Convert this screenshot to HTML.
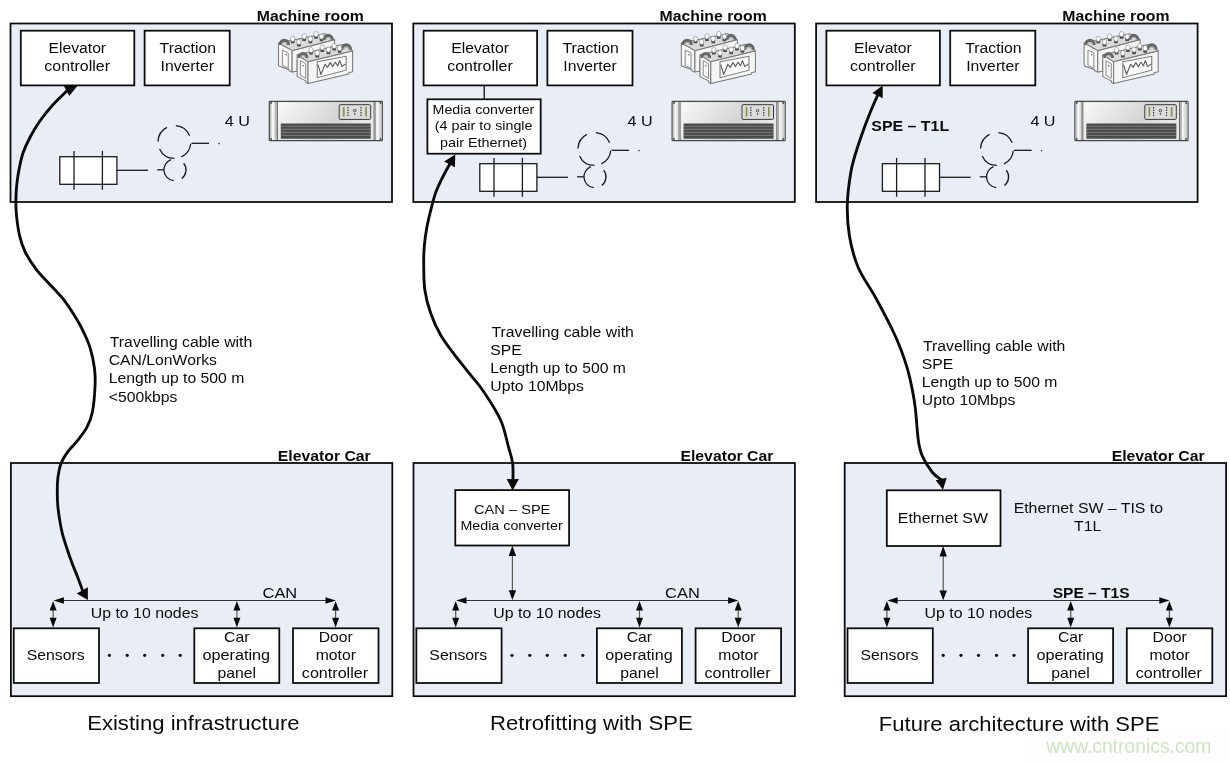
<!DOCTYPE html><html><head><meta charset="utf-8"><style>html,body{margin:0;padding:0;background:#fff;overflow:hidden;}svg{display:block;font-family:"Liberation Sans",sans-serif;will-change:transform;}</style></head><body><svg width="1230" height="762" viewBox="0 0 1230 762"><defs><linearGradient id="ear" x1="0" x2="1" y1="0" y2="0"><stop offset="0" stop-color="#b0b0b0"/><stop offset="0.35" stop-color="#fafafa"/><stop offset="1" stop-color="#c0c0c0"/></linearGradient><linearGradient id="face" x1="0" x2="1" y1="0" y2="0.3"><stop offset="0" stop-color="#f8f8f8"/><stop offset="0.7" stop-color="#d4d4d4"/><stop offset="1" stop-color="#e8e8e8"/></linearGradient></defs>
<rect x="0" y="0" width="1230" height="762" fill="#fff"/>
<rect x="1030" y="734" width="200" height="28" fill="#fdfdfd"/>
<g transform="translate(0.00,0)">
<rect x="10.50" y="23.50" width="381.50" height="178.50" fill="#e9eef6" stroke="#0a0a0a" stroke-width="1.7600000000000002"/>
<text x="256.77" y="20.60" font-size="14" font-weight="bold" textLength="107.15" lengthAdjust="spacingAndGlyphs" fill="#0a0a0a">Machine room</text>
<rect x="20.80" y="30.70" width="113.50" height="54.70" fill="#fff" stroke="#0a0a0a" stroke-width="1.7600000000000002"/>
<text x="48.48" y="52.90" font-size="14" textLength="57.63" lengthAdjust="spacingAndGlyphs" fill="#0a0a0a">Elevator</text>
<text x="44.36" y="71.20" font-size="14" textLength="65.62" lengthAdjust="spacingAndGlyphs" fill="#0a0a0a">controller</text>
<rect x="144.60" y="30.70" width="85.10" height="54.70" fill="#fff" stroke="#0a0a0a" stroke-width="1.7600000000000002"/>
<text x="159.60" y="53.00" font-size="14" textLength="56.40" lengthAdjust="spacingAndGlyphs" fill="#0a0a0a">Traction</text>
<text transform="translate(187.20,71.20) scale(1.125,1)" x="0" y="0" font-size="14" text-anchor="middle" fill="#0a0a0a">Inverter</text>
<text x="224.80" y="126.20" font-size="14" textLength="25.12" lengthAdjust="spacingAndGlyphs" fill="#0a0a0a">4 U</text>
</g>
<g transform="translate(270.00,28) scale(0.07874)">
<polygon points="108,190 281,288 820,150 690,72" fill="#dadada" stroke="#777" stroke-width="13" stroke-linejoin="round"/>
<polygon points="108,192 281,288 281,560 243,543 243,530 116,483 108,470" fill="#f8f8f8" stroke="#777" stroke-width="13" stroke-linejoin="round"/>
<polygon points="281,288 820,150 820,300 345,410 345,548 281,560" fill="#f4f4f4" stroke="#777" stroke-width="13" stroke-linejoin="round"/>
<polygon points="157,280 232,318 232,513 157,475" fill="#f8f8f8" stroke="#777" stroke-width="11"/>
<rect x="198" y="332" width="16" height="16" fill="#555"/>
<path d="M130,215 C130,136.25 235,136.25 235,215" fill="none" stroke="#666" stroke-width="40"/>
<path d="M152,219 C152,171.6875 213,171.6875 213,219" fill="none" stroke="#b4b4b4" stroke-width="14"/>
<path d="M690,150 C690,75.0 790,75.0 790,150" fill="none" stroke="#666" stroke-width="40"/>
<path d="M712,154 C712,108.75 768,108.75 768,154" fill="none" stroke="#b4b4b4" stroke-width="14"/>
<path d="M262,150 L266,195 L310,195 L314,150 Z" fill="#4a4a4a"/>
<ellipse cx="288" cy="137" rx="28" ry="33" fill="#fefefe" stroke="#8a8a8a" stroke-width="8"/>
<path d="M341,191 L345,236 L389,236 L393,191 Z" fill="#4a4a4a"/>
<ellipse cx="367" cy="178" rx="28" ry="33" fill="#fefefe" stroke="#8a8a8a" stroke-width="8"/>
<path d="M408,120 L412,165 L456,165 L460,120 Z" fill="#4a4a4a"/>
<ellipse cx="434" cy="107" rx="28" ry="33" fill="#fefefe" stroke="#8a8a8a" stroke-width="8"/>
<path d="M487,150 L491,195 L535,195 L539,150 Z" fill="#4a4a4a"/>
<ellipse cx="513" cy="137" rx="28" ry="33" fill="#fefefe" stroke="#8a8a8a" stroke-width="8"/>
<path d="M558,90 L562,135 L606,135 L610,90 Z" fill="#4a4a4a"/>
<ellipse cx="584" cy="77" rx="28" ry="33" fill="#fefefe" stroke="#8a8a8a" stroke-width="8"/>
<path d="M629,122 L633,167 L677,167 L681,122 Z" fill="#4a4a4a"/>
<ellipse cx="655" cy="109" rx="28" ry="33" fill="#fefefe" stroke="#8a8a8a" stroke-width="8"/>
<polygon points="345,340 483,430 1049,291 920,210" fill="#dadada" stroke="#777" stroke-width="13" stroke-linejoin="round"/>
<polygon points="345,345 483,430 483,705 455,690 455,672 345,618" fill="#f8f8f8" stroke="#777" stroke-width="13" stroke-linejoin="round"/>
<polygon points="483,430 1049,291 1049,557 1000,568 1000,585 563,686 483,705" fill="#f5f5f5" stroke="#777" stroke-width="13" stroke-linejoin="round"/>
<polygon points="386,415 453,453 453,640 386,600" fill="#f8f8f8" stroke="#777" stroke-width="11"/>
<rect x="412" y="470" width="16" height="16" fill="#555"/>
<polygon points="600,429 967,360 967,535 600,631" fill="#fafafa" stroke="#777" stroke-width="13"/>
<polyline points="609,466 646,590 700,460 730,500 765,440 795,490 830,435 860,480 885,415 915,490 960,455" fill="none" stroke="#5a5a5a" stroke-width="14" stroke-linejoin="round"/>
<path d="M370,380 C370,306.5 468,306.5 468,380" fill="none" stroke="#666" stroke-width="40"/>
<path d="M392,384 C392,339.575 446,339.575 446,384" fill="none" stroke="#b4b4b4" stroke-width="14"/>
<path d="M915,275 C915,194.75 1022,194.75 1022,275" fill="none" stroke="#666" stroke-width="40"/>
<path d="M937,279 C937,230.8625 1000,230.8625 1000,279" fill="none" stroke="#b4b4b4" stroke-width="14"/>
<path d="M495,293 L499,338 L543,338 L547,293 Z" fill="#4a4a4a"/>
<ellipse cx="521" cy="280" rx="28" ry="33" fill="#fefefe" stroke="#8a8a8a" stroke-width="8"/>
<path d="M574,330 L578,375 L622,375 L626,330 Z" fill="#4a4a4a"/>
<ellipse cx="600" cy="317" rx="28" ry="33" fill="#fefefe" stroke="#8a8a8a" stroke-width="8"/>
<path d="M638,260 L642,305 L686,305 L690,260 Z" fill="#4a4a4a"/>
<ellipse cx="664" cy="247" rx="28" ry="33" fill="#fefefe" stroke="#8a8a8a" stroke-width="8"/>
<path d="M716,287 L720,332 L764,332 L768,287 Z" fill="#4a4a4a"/>
<ellipse cx="742" cy="274" rx="28" ry="33" fill="#fefefe" stroke="#8a8a8a" stroke-width="8"/>
<path d="M789,241 L793,286 L837,286 L841,241 Z" fill="#4a4a4a"/>
<ellipse cx="815" cy="228" rx="28" ry="33" fill="#fefefe" stroke="#8a8a8a" stroke-width="8"/>
<path d="M858,269 L862,314 L906,314 L910,269 Z" fill="#4a4a4a"/>
<ellipse cx="884" cy="256" rx="28" ry="33" fill="#fefefe" stroke="#8a8a8a" stroke-width="8"/>
</g>
<g transform="translate(0.00,0)">
<rect x="269.3" y="101.3" width="113.1" height="39.4" rx="0.8" fill="#cfcfcf" stroke="#4a4a4a" stroke-width="1.2"/>
<rect x="270" y="102" width="7.2" height="38" fill="url(#ear)"/>
<rect x="374.6" y="102" width="7.2" height="38" fill="url(#ear)"/>
<line x1="277.4" y1="101.5" x2="277.4" y2="140.5" stroke="#555" stroke-width="1"/>
<line x1="373.9" y1="101.5" x2="373.9" y2="140.5" stroke="#555" stroke-width="1"/>
<line x1="276" y1="102" x2="276" y2="140" stroke="#9a9a9a" stroke-width="0.8"/>
<line x1="375.5" y1="102" x2="375.5" y2="140" stroke="#9a9a9a" stroke-width="0.8"/>
<circle cx="271.2" cy="103" r="0.9" fill="#444"/>
<circle cx="271.2" cy="139" r="0.9" fill="#444"/>
<circle cx="380.5" cy="103" r="0.9" fill="#444"/>
<circle cx="380.5" cy="139" r="0.9" fill="#444"/>
<rect x="277.9" y="102.2" width="95.6" height="37.4" fill="url(#face)"/>
<rect x="280.8" y="123.5" width="89.9" height="15.2" fill="#4a4a4a"/>
<line x1="280.8" y1="126.3" x2="370.7" y2="126.3" stroke="#8c8c8c" stroke-width="0.8"/>
<line x1="280.8" y1="129.3" x2="370.7" y2="129.3" stroke="#8c8c8c" stroke-width="0.8"/>
<line x1="280.8" y1="132.3" x2="370.7" y2="132.3" stroke="#8c8c8c" stroke-width="0.8"/>
<line x1="280.8" y1="135.3" x2="370.7" y2="135.3" stroke="#8c8c8c" stroke-width="0.8"/>
<rect x="339.2" y="104.7" width="31.5" height="14.7" rx="1" fill="#dcdcdc" stroke="#3a3a3a" stroke-width="1"/>
<rect x="342.9" y="107" width="1.7" height="9.5" fill="#8f8f4a"/>
<rect x="365.2" y="107" width="1.7" height="9.5" fill="#8f8f4a"/>
<circle cx="348.0" cy="107.8" r="0.7" fill="#222"/>
<circle cx="348.0" cy="110.3" r="0.7" fill="#222"/>
<circle cx="348.0" cy="112.8" r="0.7" fill="#222"/>
<circle cx="348.0" cy="115.3" r="0.7" fill="#222"/>
<circle cx="361.0" cy="107.8" r="0.7" fill="#222"/>
<circle cx="361.0" cy="110.3" r="0.7" fill="#222"/>
<circle cx="361.0" cy="112.8" r="0.7" fill="#222"/>
<circle cx="361.0" cy="115.3" r="0.7" fill="#222"/>
<circle cx="354.8" cy="110.6" r="1.3" fill="none" stroke="#222" stroke-width="0.7"/><circle cx="354.8" cy="114" r="0.7" fill="#222"/>
</g>
<g transform="translate(0.00,0.00)">
<rect x="59.80" y="156.70" width="57.10" height="27.60" fill="#fff" stroke="#1a1a1a" stroke-width="1.3"/>
<line x1="74.00" y1="150.90" x2="74.00" y2="189.80" stroke="#1a1a1a" stroke-width="1.3"/>
<line x1="102.40" y1="150.90" x2="102.40" y2="189.80" stroke="#1a1a1a" stroke-width="1.3"/>
<line x1="116.90" y1="170.30" x2="148.00" y2="170.30" stroke="#1a1a1a" stroke-width="1.3"/>
<line x1="157.20" y1="169.80" x2="163.80" y2="169.80" stroke="#1a1a1a" stroke-width="1.3"/>
<path d="M175.83,125.66 A16.4,16.4 0 0 1 189.61,135.86 M190.71,143.71 A16.4,16.4 0 0 1 181.33,156.86 M174.40,158.40 A16.4,16.4 0 0 1 159.54,148.93 M158.01,141.43 A16.4,16.4 0 0 1 166.95,127.39 M170.88,159.60 A11.0,11.0 0 0 0 173.66,180.72 M183.67,163.03 A11.0,11.0 0 0 1 181.77,178.47" fill="none" stroke="#1a1a1a" stroke-width="1.3"/>
<line x1="191.50" y1="143.30" x2="209.00" y2="143.30" stroke="#1a1a1a" stroke-width="1.3"/>
<circle cx="219" cy="143.6" r="0.8" fill="#333"/>
</g>
<g transform="translate(402.80,0)">
<rect x="10.50" y="23.50" width="381.50" height="178.50" fill="#e9eef6" stroke="#0a0a0a" stroke-width="1.7600000000000002"/>
<text x="256.77" y="20.60" font-size="14" font-weight="bold" textLength="107.15" lengthAdjust="spacingAndGlyphs" fill="#0a0a0a">Machine room</text>
<rect x="20.80" y="30.70" width="113.50" height="54.70" fill="#fff" stroke="#0a0a0a" stroke-width="1.7600000000000002"/>
<text x="48.48" y="52.90" font-size="14" textLength="57.63" lengthAdjust="spacingAndGlyphs" fill="#0a0a0a">Elevator</text>
<text x="44.36" y="71.20" font-size="14" textLength="65.62" lengthAdjust="spacingAndGlyphs" fill="#0a0a0a">controller</text>
<rect x="144.60" y="30.70" width="85.10" height="54.70" fill="#fff" stroke="#0a0a0a" stroke-width="1.7600000000000002"/>
<text x="159.60" y="53.00" font-size="14" textLength="56.40" lengthAdjust="spacingAndGlyphs" fill="#0a0a0a">Traction</text>
<text transform="translate(187.20,71.20) scale(1.125,1)" x="0" y="0" font-size="14" text-anchor="middle" fill="#0a0a0a">Inverter</text>
<text x="224.80" y="126.20" font-size="14" textLength="25.12" lengthAdjust="spacingAndGlyphs" fill="#0a0a0a">4 U</text>
</g>
<g transform="translate(672.80,28) scale(0.07874)">
<polygon points="108,190 281,288 820,150 690,72" fill="#dadada" stroke="#777" stroke-width="13" stroke-linejoin="round"/>
<polygon points="108,192 281,288 281,560 243,543 243,530 116,483 108,470" fill="#f8f8f8" stroke="#777" stroke-width="13" stroke-linejoin="round"/>
<polygon points="281,288 820,150 820,300 345,410 345,548 281,560" fill="#f4f4f4" stroke="#777" stroke-width="13" stroke-linejoin="round"/>
<polygon points="157,280 232,318 232,513 157,475" fill="#f8f8f8" stroke="#777" stroke-width="11"/>
<rect x="198" y="332" width="16" height="16" fill="#555"/>
<path d="M130,215 C130,136.25 235,136.25 235,215" fill="none" stroke="#666" stroke-width="40"/>
<path d="M152,219 C152,171.6875 213,171.6875 213,219" fill="none" stroke="#b4b4b4" stroke-width="14"/>
<path d="M690,150 C690,75.0 790,75.0 790,150" fill="none" stroke="#666" stroke-width="40"/>
<path d="M712,154 C712,108.75 768,108.75 768,154" fill="none" stroke="#b4b4b4" stroke-width="14"/>
<path d="M262,150 L266,195 L310,195 L314,150 Z" fill="#4a4a4a"/>
<ellipse cx="288" cy="137" rx="28" ry="33" fill="#fefefe" stroke="#8a8a8a" stroke-width="8"/>
<path d="M341,191 L345,236 L389,236 L393,191 Z" fill="#4a4a4a"/>
<ellipse cx="367" cy="178" rx="28" ry="33" fill="#fefefe" stroke="#8a8a8a" stroke-width="8"/>
<path d="M408,120 L412,165 L456,165 L460,120 Z" fill="#4a4a4a"/>
<ellipse cx="434" cy="107" rx="28" ry="33" fill="#fefefe" stroke="#8a8a8a" stroke-width="8"/>
<path d="M487,150 L491,195 L535,195 L539,150 Z" fill="#4a4a4a"/>
<ellipse cx="513" cy="137" rx="28" ry="33" fill="#fefefe" stroke="#8a8a8a" stroke-width="8"/>
<path d="M558,90 L562,135 L606,135 L610,90 Z" fill="#4a4a4a"/>
<ellipse cx="584" cy="77" rx="28" ry="33" fill="#fefefe" stroke="#8a8a8a" stroke-width="8"/>
<path d="M629,122 L633,167 L677,167 L681,122 Z" fill="#4a4a4a"/>
<ellipse cx="655" cy="109" rx="28" ry="33" fill="#fefefe" stroke="#8a8a8a" stroke-width="8"/>
<polygon points="345,340 483,430 1049,291 920,210" fill="#dadada" stroke="#777" stroke-width="13" stroke-linejoin="round"/>
<polygon points="345,345 483,430 483,705 455,690 455,672 345,618" fill="#f8f8f8" stroke="#777" stroke-width="13" stroke-linejoin="round"/>
<polygon points="483,430 1049,291 1049,557 1000,568 1000,585 563,686 483,705" fill="#f5f5f5" stroke="#777" stroke-width="13" stroke-linejoin="round"/>
<polygon points="386,415 453,453 453,640 386,600" fill="#f8f8f8" stroke="#777" stroke-width="11"/>
<rect x="412" y="470" width="16" height="16" fill="#555"/>
<polygon points="600,429 967,360 967,535 600,631" fill="#fafafa" stroke="#777" stroke-width="13"/>
<polyline points="609,466 646,590 700,460 730,500 765,440 795,490 830,435 860,480 885,415 915,490 960,455" fill="none" stroke="#5a5a5a" stroke-width="14" stroke-linejoin="round"/>
<path d="M370,380 C370,306.5 468,306.5 468,380" fill="none" stroke="#666" stroke-width="40"/>
<path d="M392,384 C392,339.575 446,339.575 446,384" fill="none" stroke="#b4b4b4" stroke-width="14"/>
<path d="M915,275 C915,194.75 1022,194.75 1022,275" fill="none" stroke="#666" stroke-width="40"/>
<path d="M937,279 C937,230.8625 1000,230.8625 1000,279" fill="none" stroke="#b4b4b4" stroke-width="14"/>
<path d="M495,293 L499,338 L543,338 L547,293 Z" fill="#4a4a4a"/>
<ellipse cx="521" cy="280" rx="28" ry="33" fill="#fefefe" stroke="#8a8a8a" stroke-width="8"/>
<path d="M574,330 L578,375 L622,375 L626,330 Z" fill="#4a4a4a"/>
<ellipse cx="600" cy="317" rx="28" ry="33" fill="#fefefe" stroke="#8a8a8a" stroke-width="8"/>
<path d="M638,260 L642,305 L686,305 L690,260 Z" fill="#4a4a4a"/>
<ellipse cx="664" cy="247" rx="28" ry="33" fill="#fefefe" stroke="#8a8a8a" stroke-width="8"/>
<path d="M716,287 L720,332 L764,332 L768,287 Z" fill="#4a4a4a"/>
<ellipse cx="742" cy="274" rx="28" ry="33" fill="#fefefe" stroke="#8a8a8a" stroke-width="8"/>
<path d="M789,241 L793,286 L837,286 L841,241 Z" fill="#4a4a4a"/>
<ellipse cx="815" cy="228" rx="28" ry="33" fill="#fefefe" stroke="#8a8a8a" stroke-width="8"/>
<path d="M858,269 L862,314 L906,314 L910,269 Z" fill="#4a4a4a"/>
<ellipse cx="884" cy="256" rx="28" ry="33" fill="#fefefe" stroke="#8a8a8a" stroke-width="8"/>
</g>
<g transform="translate(402.80,0)">
<rect x="269.3" y="101.3" width="113.1" height="39.4" rx="0.8" fill="#cfcfcf" stroke="#4a4a4a" stroke-width="1.2"/>
<rect x="270" y="102" width="7.2" height="38" fill="url(#ear)"/>
<rect x="374.6" y="102" width="7.2" height="38" fill="url(#ear)"/>
<line x1="277.4" y1="101.5" x2="277.4" y2="140.5" stroke="#555" stroke-width="1"/>
<line x1="373.9" y1="101.5" x2="373.9" y2="140.5" stroke="#555" stroke-width="1"/>
<line x1="276" y1="102" x2="276" y2="140" stroke="#9a9a9a" stroke-width="0.8"/>
<line x1="375.5" y1="102" x2="375.5" y2="140" stroke="#9a9a9a" stroke-width="0.8"/>
<circle cx="271.2" cy="103" r="0.9" fill="#444"/>
<circle cx="271.2" cy="139" r="0.9" fill="#444"/>
<circle cx="380.5" cy="103" r="0.9" fill="#444"/>
<circle cx="380.5" cy="139" r="0.9" fill="#444"/>
<rect x="277.9" y="102.2" width="95.6" height="37.4" fill="url(#face)"/>
<rect x="280.8" y="123.5" width="89.9" height="15.2" fill="#4a4a4a"/>
<line x1="280.8" y1="126.3" x2="370.7" y2="126.3" stroke="#8c8c8c" stroke-width="0.8"/>
<line x1="280.8" y1="129.3" x2="370.7" y2="129.3" stroke="#8c8c8c" stroke-width="0.8"/>
<line x1="280.8" y1="132.3" x2="370.7" y2="132.3" stroke="#8c8c8c" stroke-width="0.8"/>
<line x1="280.8" y1="135.3" x2="370.7" y2="135.3" stroke="#8c8c8c" stroke-width="0.8"/>
<rect x="339.2" y="104.7" width="31.5" height="14.7" rx="1" fill="#dcdcdc" stroke="#3a3a3a" stroke-width="1"/>
<rect x="342.9" y="107" width="1.7" height="9.5" fill="#8f8f4a"/>
<rect x="365.2" y="107" width="1.7" height="9.5" fill="#8f8f4a"/>
<circle cx="348.0" cy="107.8" r="0.7" fill="#222"/>
<circle cx="348.0" cy="110.3" r="0.7" fill="#222"/>
<circle cx="348.0" cy="112.8" r="0.7" fill="#222"/>
<circle cx="348.0" cy="115.3" r="0.7" fill="#222"/>
<circle cx="361.0" cy="107.8" r="0.7" fill="#222"/>
<circle cx="361.0" cy="110.3" r="0.7" fill="#222"/>
<circle cx="361.0" cy="112.8" r="0.7" fill="#222"/>
<circle cx="361.0" cy="115.3" r="0.7" fill="#222"/>
<circle cx="354.8" cy="110.6" r="1.3" fill="none" stroke="#222" stroke-width="0.7"/><circle cx="354.8" cy="114" r="0.7" fill="#222"/>
</g>
<rect x="427.40" y="99.30" width="113.30" height="54.40" fill="#fff" stroke="#0a0a0a" stroke-width="1.7600000000000002"/>
<line x1="484.20" y1="85.30" x2="484.20" y2="99.30" stroke="#0a0a0a" stroke-width="1.3"/>
<text x="432.61" y="114.00" font-size="13" textLength="101.63" lengthAdjust="spacingAndGlyphs" fill="#0a0a0a">Media converter</text>
<text x="434.80" y="130.00" font-size="13" textLength="97.68" lengthAdjust="spacingAndGlyphs" fill="#0a0a0a">(4 pair to single</text>
<text x="439.99" y="146.60" font-size="13" textLength="87.05" lengthAdjust="spacingAndGlyphs" fill="#0a0a0a">pair Ethernet)</text>
<g transform="translate(420.00,7.00)">
<rect x="59.80" y="156.70" width="57.10" height="27.60" fill="#fff" stroke="#1a1a1a" stroke-width="1.3"/>
<line x1="74.00" y1="150.90" x2="74.00" y2="189.80" stroke="#1a1a1a" stroke-width="1.3"/>
<line x1="102.40" y1="150.90" x2="102.40" y2="189.80" stroke="#1a1a1a" stroke-width="1.3"/>
<line x1="116.90" y1="170.30" x2="148.00" y2="170.30" stroke="#1a1a1a" stroke-width="1.3"/>
<line x1="157.20" y1="169.80" x2="163.80" y2="169.80" stroke="#1a1a1a" stroke-width="1.3"/>
<path d="M175.83,125.66 A16.4,16.4 0 0 1 189.61,135.86 M190.71,143.71 A16.4,16.4 0 0 1 181.33,156.86 M174.40,158.40 A16.4,16.4 0 0 1 159.54,148.93 M158.01,141.43 A16.4,16.4 0 0 1 166.95,127.39 M170.88,159.60 A11.0,11.0 0 0 0 173.66,180.72 M183.67,163.03 A11.0,11.0 0 0 1 181.77,178.47" fill="none" stroke="#1a1a1a" stroke-width="1.3"/>
<line x1="191.50" y1="143.30" x2="209.00" y2="143.30" stroke="#1a1a1a" stroke-width="1.3"/>
<circle cx="219" cy="143.6" r="0.8" fill="#333"/>
</g>
<g transform="translate(805.60,0)">
<rect x="10.50" y="23.50" width="381.50" height="178.50" fill="#e9eef6" stroke="#0a0a0a" stroke-width="1.7600000000000002"/>
<text x="256.77" y="20.60" font-size="14" font-weight="bold" textLength="107.15" lengthAdjust="spacingAndGlyphs" fill="#0a0a0a">Machine room</text>
<rect x="20.80" y="30.70" width="113.50" height="54.70" fill="#fff" stroke="#0a0a0a" stroke-width="1.7600000000000002"/>
<text x="48.48" y="52.90" font-size="14" textLength="57.63" lengthAdjust="spacingAndGlyphs" fill="#0a0a0a">Elevator</text>
<text x="44.36" y="71.20" font-size="14" textLength="65.62" lengthAdjust="spacingAndGlyphs" fill="#0a0a0a">controller</text>
<rect x="144.60" y="30.70" width="85.10" height="54.70" fill="#fff" stroke="#0a0a0a" stroke-width="1.7600000000000002"/>
<text x="159.60" y="53.00" font-size="14" textLength="56.40" lengthAdjust="spacingAndGlyphs" fill="#0a0a0a">Traction</text>
<text transform="translate(187.20,71.20) scale(1.125,1)" x="0" y="0" font-size="14" text-anchor="middle" fill="#0a0a0a">Inverter</text>
<text x="224.80" y="126.20" font-size="14" textLength="25.12" lengthAdjust="spacingAndGlyphs" fill="#0a0a0a">4 U</text>
</g>
<g transform="translate(1075.60,28) scale(0.07874)">
<polygon points="108,190 281,288 820,150 690,72" fill="#dadada" stroke="#777" stroke-width="13" stroke-linejoin="round"/>
<polygon points="108,192 281,288 281,560 243,543 243,530 116,483 108,470" fill="#f8f8f8" stroke="#777" stroke-width="13" stroke-linejoin="round"/>
<polygon points="281,288 820,150 820,300 345,410 345,548 281,560" fill="#f4f4f4" stroke="#777" stroke-width="13" stroke-linejoin="round"/>
<polygon points="157,280 232,318 232,513 157,475" fill="#f8f8f8" stroke="#777" stroke-width="11"/>
<rect x="198" y="332" width="16" height="16" fill="#555"/>
<path d="M130,215 C130,136.25 235,136.25 235,215" fill="none" stroke="#666" stroke-width="40"/>
<path d="M152,219 C152,171.6875 213,171.6875 213,219" fill="none" stroke="#b4b4b4" stroke-width="14"/>
<path d="M690,150 C690,75.0 790,75.0 790,150" fill="none" stroke="#666" stroke-width="40"/>
<path d="M712,154 C712,108.75 768,108.75 768,154" fill="none" stroke="#b4b4b4" stroke-width="14"/>
<path d="M262,150 L266,195 L310,195 L314,150 Z" fill="#4a4a4a"/>
<ellipse cx="288" cy="137" rx="28" ry="33" fill="#fefefe" stroke="#8a8a8a" stroke-width="8"/>
<path d="M341,191 L345,236 L389,236 L393,191 Z" fill="#4a4a4a"/>
<ellipse cx="367" cy="178" rx="28" ry="33" fill="#fefefe" stroke="#8a8a8a" stroke-width="8"/>
<path d="M408,120 L412,165 L456,165 L460,120 Z" fill="#4a4a4a"/>
<ellipse cx="434" cy="107" rx="28" ry="33" fill="#fefefe" stroke="#8a8a8a" stroke-width="8"/>
<path d="M487,150 L491,195 L535,195 L539,150 Z" fill="#4a4a4a"/>
<ellipse cx="513" cy="137" rx="28" ry="33" fill="#fefefe" stroke="#8a8a8a" stroke-width="8"/>
<path d="M558,90 L562,135 L606,135 L610,90 Z" fill="#4a4a4a"/>
<ellipse cx="584" cy="77" rx="28" ry="33" fill="#fefefe" stroke="#8a8a8a" stroke-width="8"/>
<path d="M629,122 L633,167 L677,167 L681,122 Z" fill="#4a4a4a"/>
<ellipse cx="655" cy="109" rx="28" ry="33" fill="#fefefe" stroke="#8a8a8a" stroke-width="8"/>
<polygon points="345,340 483,430 1049,291 920,210" fill="#dadada" stroke="#777" stroke-width="13" stroke-linejoin="round"/>
<polygon points="345,345 483,430 483,705 455,690 455,672 345,618" fill="#f8f8f8" stroke="#777" stroke-width="13" stroke-linejoin="round"/>
<polygon points="483,430 1049,291 1049,557 1000,568 1000,585 563,686 483,705" fill="#f5f5f5" stroke="#777" stroke-width="13" stroke-linejoin="round"/>
<polygon points="386,415 453,453 453,640 386,600" fill="#f8f8f8" stroke="#777" stroke-width="11"/>
<rect x="412" y="470" width="16" height="16" fill="#555"/>
<polygon points="600,429 967,360 967,535 600,631" fill="#fafafa" stroke="#777" stroke-width="13"/>
<polyline points="609,466 646,590 700,460 730,500 765,440 795,490 830,435 860,480 885,415 915,490 960,455" fill="none" stroke="#5a5a5a" stroke-width="14" stroke-linejoin="round"/>
<path d="M370,380 C370,306.5 468,306.5 468,380" fill="none" stroke="#666" stroke-width="40"/>
<path d="M392,384 C392,339.575 446,339.575 446,384" fill="none" stroke="#b4b4b4" stroke-width="14"/>
<path d="M915,275 C915,194.75 1022,194.75 1022,275" fill="none" stroke="#666" stroke-width="40"/>
<path d="M937,279 C937,230.8625 1000,230.8625 1000,279" fill="none" stroke="#b4b4b4" stroke-width="14"/>
<path d="M495,293 L499,338 L543,338 L547,293 Z" fill="#4a4a4a"/>
<ellipse cx="521" cy="280" rx="28" ry="33" fill="#fefefe" stroke="#8a8a8a" stroke-width="8"/>
<path d="M574,330 L578,375 L622,375 L626,330 Z" fill="#4a4a4a"/>
<ellipse cx="600" cy="317" rx="28" ry="33" fill="#fefefe" stroke="#8a8a8a" stroke-width="8"/>
<path d="M638,260 L642,305 L686,305 L690,260 Z" fill="#4a4a4a"/>
<ellipse cx="664" cy="247" rx="28" ry="33" fill="#fefefe" stroke="#8a8a8a" stroke-width="8"/>
<path d="M716,287 L720,332 L764,332 L768,287 Z" fill="#4a4a4a"/>
<ellipse cx="742" cy="274" rx="28" ry="33" fill="#fefefe" stroke="#8a8a8a" stroke-width="8"/>
<path d="M789,241 L793,286 L837,286 L841,241 Z" fill="#4a4a4a"/>
<ellipse cx="815" cy="228" rx="28" ry="33" fill="#fefefe" stroke="#8a8a8a" stroke-width="8"/>
<path d="M858,269 L862,314 L906,314 L910,269 Z" fill="#4a4a4a"/>
<ellipse cx="884" cy="256" rx="28" ry="33" fill="#fefefe" stroke="#8a8a8a" stroke-width="8"/>
</g>
<g transform="translate(805.60,0)">
<rect x="269.3" y="101.3" width="113.1" height="39.4" rx="0.8" fill="#cfcfcf" stroke="#4a4a4a" stroke-width="1.2"/>
<rect x="270" y="102" width="7.2" height="38" fill="url(#ear)"/>
<rect x="374.6" y="102" width="7.2" height="38" fill="url(#ear)"/>
<line x1="277.4" y1="101.5" x2="277.4" y2="140.5" stroke="#555" stroke-width="1"/>
<line x1="373.9" y1="101.5" x2="373.9" y2="140.5" stroke="#555" stroke-width="1"/>
<line x1="276" y1="102" x2="276" y2="140" stroke="#9a9a9a" stroke-width="0.8"/>
<line x1="375.5" y1="102" x2="375.5" y2="140" stroke="#9a9a9a" stroke-width="0.8"/>
<circle cx="271.2" cy="103" r="0.9" fill="#444"/>
<circle cx="271.2" cy="139" r="0.9" fill="#444"/>
<circle cx="380.5" cy="103" r="0.9" fill="#444"/>
<circle cx="380.5" cy="139" r="0.9" fill="#444"/>
<rect x="277.9" y="102.2" width="95.6" height="37.4" fill="url(#face)"/>
<rect x="280.8" y="123.5" width="89.9" height="15.2" fill="#4a4a4a"/>
<line x1="280.8" y1="126.3" x2="370.7" y2="126.3" stroke="#8c8c8c" stroke-width="0.8"/>
<line x1="280.8" y1="129.3" x2="370.7" y2="129.3" stroke="#8c8c8c" stroke-width="0.8"/>
<line x1="280.8" y1="132.3" x2="370.7" y2="132.3" stroke="#8c8c8c" stroke-width="0.8"/>
<line x1="280.8" y1="135.3" x2="370.7" y2="135.3" stroke="#8c8c8c" stroke-width="0.8"/>
<rect x="339.2" y="104.7" width="31.5" height="14.7" rx="1" fill="#dcdcdc" stroke="#3a3a3a" stroke-width="1"/>
<rect x="342.9" y="107" width="1.7" height="9.5" fill="#8f8f4a"/>
<rect x="365.2" y="107" width="1.7" height="9.5" fill="#8f8f4a"/>
<circle cx="348.0" cy="107.8" r="0.7" fill="#222"/>
<circle cx="348.0" cy="110.3" r="0.7" fill="#222"/>
<circle cx="348.0" cy="112.8" r="0.7" fill="#222"/>
<circle cx="348.0" cy="115.3" r="0.7" fill="#222"/>
<circle cx="361.0" cy="107.8" r="0.7" fill="#222"/>
<circle cx="361.0" cy="110.3" r="0.7" fill="#222"/>
<circle cx="361.0" cy="112.8" r="0.7" fill="#222"/>
<circle cx="361.0" cy="115.3" r="0.7" fill="#222"/>
<circle cx="354.8" cy="110.6" r="1.3" fill="none" stroke="#222" stroke-width="0.7"/><circle cx="354.8" cy="114" r="0.7" fill="#222"/>
</g>
<text x="871.36" y="130.80" font-size="14" font-weight="bold" textLength="77.77" lengthAdjust="spacingAndGlyphs" fill="#0a0a0a">SPE – T1L</text>
<g transform="translate(822.60,7.00)">
<rect x="59.80" y="156.70" width="57.10" height="27.60" fill="#fff" stroke="#1a1a1a" stroke-width="1.3"/>
<line x1="74.00" y1="150.90" x2="74.00" y2="189.80" stroke="#1a1a1a" stroke-width="1.3"/>
<line x1="102.40" y1="150.90" x2="102.40" y2="189.80" stroke="#1a1a1a" stroke-width="1.3"/>
<line x1="116.90" y1="170.30" x2="148.00" y2="170.30" stroke="#1a1a1a" stroke-width="1.3"/>
<line x1="157.20" y1="169.80" x2="163.80" y2="169.80" stroke="#1a1a1a" stroke-width="1.3"/>
<path d="M175.83,125.66 A16.4,16.4 0 0 1 189.61,135.86 M190.71,143.71 A16.4,16.4 0 0 1 181.33,156.86 M174.40,158.40 A16.4,16.4 0 0 1 159.54,148.93 M158.01,141.43 A16.4,16.4 0 0 1 166.95,127.39 M170.88,159.60 A11.0,11.0 0 0 0 173.66,180.72 M183.67,163.03 A11.0,11.0 0 0 1 181.77,178.47" fill="none" stroke="#1a1a1a" stroke-width="1.3"/>
<line x1="191.50" y1="143.30" x2="209.00" y2="143.30" stroke="#1a1a1a" stroke-width="1.3"/>
<circle cx="219" cy="143.6" r="0.8" fill="#333"/>
</g>
<g transform="translate(0.00,0)">
<rect x="10.90" y="463.00" width="381.40" height="233.20" fill="#e9eef6" stroke="#0a0a0a" stroke-width="1.7600000000000002"/>
<text x="277.87" y="460.80" font-size="14" font-weight="bold" textLength="92.87" lengthAdjust="spacingAndGlyphs" fill="#0a0a0a">Elevator Car</text>
<line x1="60.00" y1="600.50" x2="330.00" y2="600.50" stroke="#333" stroke-width="1.2"/>
<polygon points="53.60,600.50 63.90,597.20 63.90,603.80" fill="#0a0a0a"/>
<polygon points="335.80,600.50 325.50,597.20 325.50,603.80" fill="#0a0a0a"/>
<line x1="53.10" y1="608.00" x2="53.10" y2="620.00" stroke="#555" stroke-width="1.2"/>
<polygon points="53.10,601.00 49.60,610.60 56.60,610.60" fill="#0a0a0a"/>
<polygon points="53.10,627.60 49.60,617.80 56.60,617.80" fill="#0a0a0a"/>
<line x1="236.90" y1="608.00" x2="236.90" y2="620.00" stroke="#555" stroke-width="1.2"/>
<polygon points="236.90,601.00 233.40,610.60 240.40,610.60" fill="#0a0a0a"/>
<polygon points="236.90,627.60 233.40,617.80 240.40,617.80" fill="#0a0a0a"/>
<line x1="335.60" y1="608.00" x2="335.60" y2="620.00" stroke="#555" stroke-width="1.2"/>
<polygon points="335.60,601.00 332.10,610.60 339.10,610.60" fill="#0a0a0a"/>
<polygon points="335.60,627.60 332.10,617.80 339.10,617.80" fill="#0a0a0a"/>
<text x="262.53" y="597.70" font-size="14" textLength="34.71" lengthAdjust="spacingAndGlyphs" fill="#0a0a0a">CAN</text>
<text x="90.77" y="618.40" font-size="14" textLength="107.63" lengthAdjust="spacingAndGlyphs" fill="#0a0a0a">Up to 10 nodes</text>
<rect x="13.75" y="628.30" width="85.25" height="54.70" fill="#fff" stroke="#0a0a0a" stroke-width="1.7600000000000002"/>
<text x="26.77" y="659.50" font-size="14" textLength="57.83" lengthAdjust="spacingAndGlyphs" fill="#0a0a0a">Sensors</text>
<circle cx="109.4" cy="655.3" r="1.6" fill="#111"/>
<circle cx="127.2" cy="655.3" r="1.6" fill="#111"/>
<circle cx="144.7" cy="655.3" r="1.6" fill="#111"/>
<circle cx="162.7" cy="655.3" r="1.6" fill="#111"/>
<circle cx="180.2" cy="655.3" r="1.6" fill="#111"/>
<rect x="194.30" y="628.30" width="85.00" height="54.70" fill="#fff" stroke="#0a0a0a" stroke-width="1.7600000000000002"/>
<text transform="translate(236.80,641.50) scale(1.125,1)" x="0" y="0" font-size="14" text-anchor="middle" fill="#0a0a0a">Car</text>
<text x="202.64" y="659.60" font-size="14" textLength="67.46" lengthAdjust="spacingAndGlyphs" fill="#0a0a0a">operating</text>
<text transform="translate(236.80,677.50) scale(1.125,1)" x="0" y="0" font-size="14" text-anchor="middle" fill="#0a0a0a">panel</text>
<rect x="293.00" y="628.30" width="85.50" height="54.70" fill="#fff" stroke="#0a0a0a" stroke-width="1.7600000000000002"/>
<text transform="translate(335.80,641.50) scale(1.125,1)" x="0" y="0" font-size="14" text-anchor="middle" fill="#0a0a0a">Door</text>
<text transform="translate(335.80,659.60) scale(1.125,1)" x="0" y="0" font-size="14" text-anchor="middle" fill="#0a0a0a">motor</text>
<text x="301.85" y="677.50" font-size="14" textLength="66.23" lengthAdjust="spacingAndGlyphs" fill="#0a0a0a">controller</text>
</g>
<g transform="translate(402.60,0)">
<rect x="10.90" y="463.00" width="381.40" height="233.20" fill="#e9eef6" stroke="#0a0a0a" stroke-width="1.7600000000000002"/>
<text x="277.87" y="460.80" font-size="14" font-weight="bold" textLength="92.87" lengthAdjust="spacingAndGlyphs" fill="#0a0a0a">Elevator Car</text>
<line x1="60.00" y1="600.50" x2="330.00" y2="600.50" stroke="#333" stroke-width="1.2"/>
<polygon points="53.60,600.50 63.90,597.20 63.90,603.80" fill="#0a0a0a"/>
<polygon points="335.80,600.50 325.50,597.20 325.50,603.80" fill="#0a0a0a"/>
<line x1="53.10" y1="608.00" x2="53.10" y2="620.00" stroke="#555" stroke-width="1.2"/>
<polygon points="53.10,601.00 49.60,610.60 56.60,610.60" fill="#0a0a0a"/>
<polygon points="53.10,627.60 49.60,617.80 56.60,617.80" fill="#0a0a0a"/>
<line x1="236.90" y1="608.00" x2="236.90" y2="620.00" stroke="#555" stroke-width="1.2"/>
<polygon points="236.90,601.00 233.40,610.60 240.40,610.60" fill="#0a0a0a"/>
<polygon points="236.90,627.60 233.40,617.80 240.40,617.80" fill="#0a0a0a"/>
<line x1="335.60" y1="608.00" x2="335.60" y2="620.00" stroke="#555" stroke-width="1.2"/>
<polygon points="335.60,601.00 332.10,610.60 339.10,610.60" fill="#0a0a0a"/>
<polygon points="335.60,627.60 332.10,617.80 339.10,617.80" fill="#0a0a0a"/>
<text x="262.53" y="597.70" font-size="14" textLength="34.71" lengthAdjust="spacingAndGlyphs" fill="#0a0a0a">CAN</text>
<text x="90.77" y="618.40" font-size="14" textLength="107.63" lengthAdjust="spacingAndGlyphs" fill="#0a0a0a">Up to 10 nodes</text>
<rect x="13.75" y="628.30" width="85.25" height="54.70" fill="#fff" stroke="#0a0a0a" stroke-width="1.7600000000000002"/>
<text x="26.77" y="659.50" font-size="14" textLength="57.83" lengthAdjust="spacingAndGlyphs" fill="#0a0a0a">Sensors</text>
<circle cx="109.4" cy="655.3" r="1.6" fill="#111"/>
<circle cx="127.2" cy="655.3" r="1.6" fill="#111"/>
<circle cx="144.7" cy="655.3" r="1.6" fill="#111"/>
<circle cx="162.7" cy="655.3" r="1.6" fill="#111"/>
<circle cx="180.2" cy="655.3" r="1.6" fill="#111"/>
<rect x="194.30" y="628.30" width="85.00" height="54.70" fill="#fff" stroke="#0a0a0a" stroke-width="1.7600000000000002"/>
<text transform="translate(236.80,641.50) scale(1.125,1)" x="0" y="0" font-size="14" text-anchor="middle" fill="#0a0a0a">Car</text>
<text x="202.64" y="659.60" font-size="14" textLength="67.46" lengthAdjust="spacingAndGlyphs" fill="#0a0a0a">operating</text>
<text transform="translate(236.80,677.50) scale(1.125,1)" x="0" y="0" font-size="14" text-anchor="middle" fill="#0a0a0a">panel</text>
<rect x="293.00" y="628.30" width="85.50" height="54.70" fill="#fff" stroke="#0a0a0a" stroke-width="1.7600000000000002"/>
<text transform="translate(335.80,641.50) scale(1.125,1)" x="0" y="0" font-size="14" text-anchor="middle" fill="#0a0a0a">Door</text>
<text transform="translate(335.80,659.60) scale(1.125,1)" x="0" y="0" font-size="14" text-anchor="middle" fill="#0a0a0a">motor</text>
<text x="301.85" y="677.50" font-size="14" textLength="66.23" lengthAdjust="spacingAndGlyphs" fill="#0a0a0a">controller</text>
</g>
<rect x="455.30" y="490.10" width="113.80" height="55.40" fill="#fff" stroke="#0a0a0a" stroke-width="1.7600000000000002"/>
<text transform="translate(512.20,514.00) scale(1.125,1)" x="0" y="0" font-size="13" text-anchor="middle" fill="#0a0a0a">CAN – SPE</text>
<text x="460.50" y="530.40" font-size="13" textLength="102.14" lengthAdjust="spacingAndGlyphs" fill="#0a0a0a">Media converter</text>
<line x1="512.40" y1="552.00" x2="512.40" y2="594.00" stroke="#555" stroke-width="1.2"/>
<polygon points="512.40,545.60 508.70,556.00 516.10,556.00" fill="#0a0a0a"/>
<polygon points="512.40,600.00 508.70,590.30 516.10,590.30" fill="#0a0a0a"/>
<g transform="translate(833.80,0)">
<rect x="10.90" y="463.00" width="381.40" height="233.20" fill="#e9eef6" stroke="#0a0a0a" stroke-width="1.7600000000000002"/>
<text x="277.87" y="460.80" font-size="14" font-weight="bold" textLength="92.87" lengthAdjust="spacingAndGlyphs" fill="#0a0a0a">Elevator Car</text>
<line x1="60.00" y1="600.50" x2="330.00" y2="600.50" stroke="#333" stroke-width="1.2"/>
<polygon points="53.60,600.50 63.90,597.20 63.90,603.80" fill="#0a0a0a"/>
<polygon points="335.80,600.50 325.50,597.20 325.50,603.80" fill="#0a0a0a"/>
<line x1="53.10" y1="608.00" x2="53.10" y2="620.00" stroke="#555" stroke-width="1.2"/>
<polygon points="53.10,601.00 49.60,610.60 56.60,610.60" fill="#0a0a0a"/>
<polygon points="53.10,627.60 49.60,617.80 56.60,617.80" fill="#0a0a0a"/>
<line x1="236.90" y1="608.00" x2="236.90" y2="620.00" stroke="#555" stroke-width="1.2"/>
<polygon points="236.90,601.00 233.40,610.60 240.40,610.60" fill="#0a0a0a"/>
<polygon points="236.90,627.60 233.40,617.80 240.40,617.80" fill="#0a0a0a"/>
<line x1="335.60" y1="608.00" x2="335.60" y2="620.00" stroke="#555" stroke-width="1.2"/>
<polygon points="335.60,601.00 332.10,610.60 339.10,610.60" fill="#0a0a0a"/>
<polygon points="335.60,627.60 332.10,617.80 339.10,617.80" fill="#0a0a0a"/>
<text x="218.89" y="597.50" font-size="14" font-weight="bold" textLength="76.91" lengthAdjust="spacingAndGlyphs" fill="#0a0a0a">SPE – T1S</text>
<text x="90.77" y="618.40" font-size="14" textLength="107.63" lengthAdjust="spacingAndGlyphs" fill="#0a0a0a">Up to 10 nodes</text>
<rect x="13.75" y="628.30" width="85.25" height="54.70" fill="#fff" stroke="#0a0a0a" stroke-width="1.7600000000000002"/>
<text x="26.77" y="659.50" font-size="14" textLength="57.83" lengthAdjust="spacingAndGlyphs" fill="#0a0a0a">Sensors</text>
<circle cx="109.4" cy="655.3" r="1.6" fill="#111"/>
<circle cx="127.2" cy="655.3" r="1.6" fill="#111"/>
<circle cx="144.7" cy="655.3" r="1.6" fill="#111"/>
<circle cx="162.7" cy="655.3" r="1.6" fill="#111"/>
<circle cx="180.2" cy="655.3" r="1.6" fill="#111"/>
<rect x="194.30" y="628.30" width="85.00" height="54.70" fill="#fff" stroke="#0a0a0a" stroke-width="1.7600000000000002"/>
<text transform="translate(236.80,641.50) scale(1.125,1)" x="0" y="0" font-size="14" text-anchor="middle" fill="#0a0a0a">Car</text>
<text x="202.64" y="659.60" font-size="14" textLength="67.46" lengthAdjust="spacingAndGlyphs" fill="#0a0a0a">operating</text>
<text transform="translate(236.80,677.50) scale(1.125,1)" x="0" y="0" font-size="14" text-anchor="middle" fill="#0a0a0a">panel</text>
<rect x="293.00" y="628.30" width="85.50" height="54.70" fill="#fff" stroke="#0a0a0a" stroke-width="1.7600000000000002"/>
<text transform="translate(335.80,641.50) scale(1.125,1)" x="0" y="0" font-size="14" text-anchor="middle" fill="#0a0a0a">Door</text>
<text transform="translate(335.80,659.60) scale(1.125,1)" x="0" y="0" font-size="14" text-anchor="middle" fill="#0a0a0a">motor</text>
<text x="301.85" y="677.50" font-size="14" textLength="66.23" lengthAdjust="spacingAndGlyphs" fill="#0a0a0a">controller</text>
</g>
<rect x="886.80" y="490.30" width="113.70" height="55.70" fill="#fff" stroke="#0a0a0a" stroke-width="1.7600000000000002"/>
<text x="897.87" y="522.80" font-size="14" textLength="90.06" lengthAdjust="spacingAndGlyphs" fill="#0a0a0a">Ethernet SW</text>
<text x="1013.67" y="512.90" font-size="14" textLength="149.30" lengthAdjust="spacingAndGlyphs" fill="#0a0a0a">Ethernet SW – TIS to</text>
<text transform="translate(1087.60,531.10) scale(1.125,1)" x="0" y="0" font-size="14" text-anchor="middle" fill="#0a0a0a">T1L</text>
<line x1="943.20" y1="552.00" x2="943.20" y2="594.00" stroke="#555" stroke-width="1.2"/>
<polygon points="943.20,546.10 939.50,556.40 946.90,556.40" fill="#0a0a0a"/>
<polygon points="943.20,600.20 939.50,590.50 946.90,590.50" fill="#0a0a0a"/>
<text x="109.80" y="347.10" font-size="14" textLength="142.50" lengthAdjust="spacingAndGlyphs" fill="#0a0a0a">Travelling cable with</text>
<text transform="translate(108.70,365.25) scale(1.125,1)" x="0" y="0" font-size="14" fill="#0a0a0a">CAN/LonWorks</text>
<text transform="translate(108.70,383.40) scale(1.125,1)" x="0" y="0" font-size="14" fill="#0a0a0a">Length up to 500 m</text>
<text transform="translate(108.70,401.55) scale(1.125,1)" x="0" y="0" font-size="14" fill="#0a0a0a">&lt;500kbps</text>
<text x="491.40" y="337.00" font-size="14" textLength="142.50" lengthAdjust="spacingAndGlyphs" fill="#0a0a0a">Travelling cable with</text>
<text transform="translate(490.30,355.15) scale(1.125,1)" x="0" y="0" font-size="14" fill="#0a0a0a">SPE</text>
<text transform="translate(490.30,373.30) scale(1.125,1)" x="0" y="0" font-size="14" fill="#0a0a0a">Length up to 500 m</text>
<text transform="translate(490.30,391.45) scale(1.125,1)" x="0" y="0" font-size="14" fill="#0a0a0a">Upto 10Mbps</text>
<text x="922.90" y="350.60" font-size="14" textLength="142.50" lengthAdjust="spacingAndGlyphs" fill="#0a0a0a">Travelling cable with</text>
<text transform="translate(921.80,368.75) scale(1.125,1)" x="0" y="0" font-size="14" fill="#0a0a0a">SPE</text>
<text transform="translate(921.80,386.90) scale(1.125,1)" x="0" y="0" font-size="14" fill="#0a0a0a">Length up to 500 m</text>
<text transform="translate(921.80,405.05) scale(1.125,1)" x="0" y="0" font-size="14" fill="#0a0a0a">Upto 10Mbps</text>
<path d="M66.50,91.30 C64.13,93.67 56.77,100.50 52.30,105.50 C47.83,110.50 43.38,116.05 39.70,121.30 C36.02,126.55 32.97,131.75 30.20,137.00 C27.43,142.25 24.93,147.53 23.10,152.80 C21.27,158.07 20.25,163.35 19.20,168.60 C18.15,173.85 17.35,179.07 16.80,184.30 C16.25,189.53 15.95,194.77 15.90,200.00 C15.85,205.23 15.87,209.67 16.50,215.70 C17.13,221.73 18.25,230.15 19.70,236.20 C21.15,242.25 22.45,246.48 25.20,252.00 C27.95,257.52 32.00,263.80 36.20,269.30 C40.40,274.80 45.67,279.75 50.40,285.00 C55.13,290.25 60.13,294.97 64.60,300.80 C69.07,306.63 73.95,314.62 77.20,320.00 C80.45,325.38 81.90,328.30 84.10,333.10 C86.30,337.90 88.68,343.03 90.40,348.80 C92.12,354.57 93.62,361.67 94.40,367.70 C95.18,373.73 95.42,377.70 95.10,385.00 C94.78,392.30 93.85,404.47 92.50,411.50 C91.15,418.53 89.62,422.22 87.00,427.20 C84.38,432.18 80.08,437.20 76.80,441.40 C73.52,445.60 69.93,448.72 67.30,452.40 C64.67,456.08 62.57,459.30 61.00,463.50 C59.43,467.70 58.52,473.18 57.90,477.60 C57.28,482.02 57.33,485.52 57.30,490.00 C57.27,494.48 57.33,499.68 57.70,504.50 C58.07,509.32 58.73,514.08 59.50,518.90 C60.27,523.72 61.10,528.58 62.30,533.40 C63.50,538.22 65.13,542.98 66.70,547.80 C68.27,552.62 69.90,557.48 71.70,562.30 C73.50,567.12 75.68,572.00 77.50,576.70 C79.32,581.40 81.75,588.20 82.60,590.50" fill="none" stroke="#0a0a0a" stroke-width="2.85" stroke-linecap="round"/>
<polygon points="77.50,85.80 63.80,85.80 69.30,95.90" fill="#0a0a0a"/>
<polygon points="87.90,600.00 76.70,593.40 87.90,587.20" fill="#0a0a0a"/>
<path d="M449.30,164.80 C448.05,167.15 444.10,174.18 441.80,178.90 C439.50,183.62 437.35,187.85 435.50,193.10 C433.65,198.35 432.15,204.63 430.70,210.40 C429.25,216.17 427.85,221.93 426.80,227.70 C425.75,233.47 424.92,239.22 424.40,245.00 C423.88,250.78 423.63,254.95 423.70,262.40 C423.77,269.85 423.63,281.22 424.80,289.70 C425.97,298.18 428.07,305.75 430.70,313.30 C433.33,320.85 436.65,328.12 440.60,335.00 C444.55,341.88 449.48,348.05 454.40,354.60 C459.32,361.15 465.18,368.07 470.10,374.30 C475.02,380.53 478.82,384.38 483.90,392.00 C488.98,399.62 496.50,410.83 500.60,420.00 C504.70,429.17 506.50,439.83 508.50,447.00 C510.50,454.17 511.85,457.50 512.60,463.00 C513.35,468.50 512.93,477.17 513.00,480.00" fill="none" stroke="#0a0a0a" stroke-width="2.85" stroke-linecap="round"/>
<polygon points="455.30,154.50 444.10,161.40 454.90,167.30" fill="#0a0a0a"/>
<polygon points="512.60,490.40 506.70,479.00 518.90,479.00" fill="#0a0a0a"/>
<path d="M877.30,96.00 C876.28,98.33 873.53,104.27 871.20,110.00 C868.87,115.73 865.93,123.07 863.30,130.40 C860.67,137.73 857.50,146.92 855.40,154.00 C853.30,161.08 852.05,164.52 850.70,172.90 C849.35,181.28 847.52,193.83 847.30,204.30 C847.08,214.77 847.60,225.22 849.40,235.70 C851.20,246.18 853.63,256.70 858.10,267.20 C862.57,277.70 870.47,288.23 876.20,298.70 C881.93,309.17 888.37,321.50 892.50,330.00 C896.63,338.50 898.48,343.13 901.00,349.70 C903.52,356.27 905.73,362.83 907.60,369.40 C909.47,375.97 910.90,382.53 912.20,389.10 C913.50,395.67 914.37,400.15 915.40,408.80 C916.43,417.45 917.20,433.02 918.40,441.00 C919.60,448.98 920.25,451.45 922.60,456.70 C924.95,461.95 929.43,468.70 932.50,472.50 C935.57,476.30 939.58,478.33 941.00,479.50" fill="none" stroke="#0a0a0a" stroke-width="2.85" stroke-linecap="round"/>
<polygon points="882.70,85.60 872.40,93.10 882.70,98.20" fill="#0a0a0a"/>
<polygon points="943.00,489.80 935.70,480.30 946.70,477.70" fill="#0a0a0a"/>
<text x="87.19" y="730.20" font-size="20.5" textLength="212.40" lengthAdjust="spacingAndGlyphs" fill="#0a0a0a">Existing infrastructure</text>
<text x="490.04" y="730.00" font-size="20.5" textLength="202.74" lengthAdjust="spacingAndGlyphs" fill="#0a0a0a">Retrofitting with SPE</text>
<text x="878.85" y="730.50" font-size="20.5" textLength="280.64" lengthAdjust="spacingAndGlyphs" fill="#0a0a0a">Future architecture with SPE</text>
<text x="1046.30" y="752.60" font-size="20" textLength="165.01" lengthAdjust="spacingAndGlyphs" fill="#cbe5c0">www.cntronics.com</text></svg></body></html>
